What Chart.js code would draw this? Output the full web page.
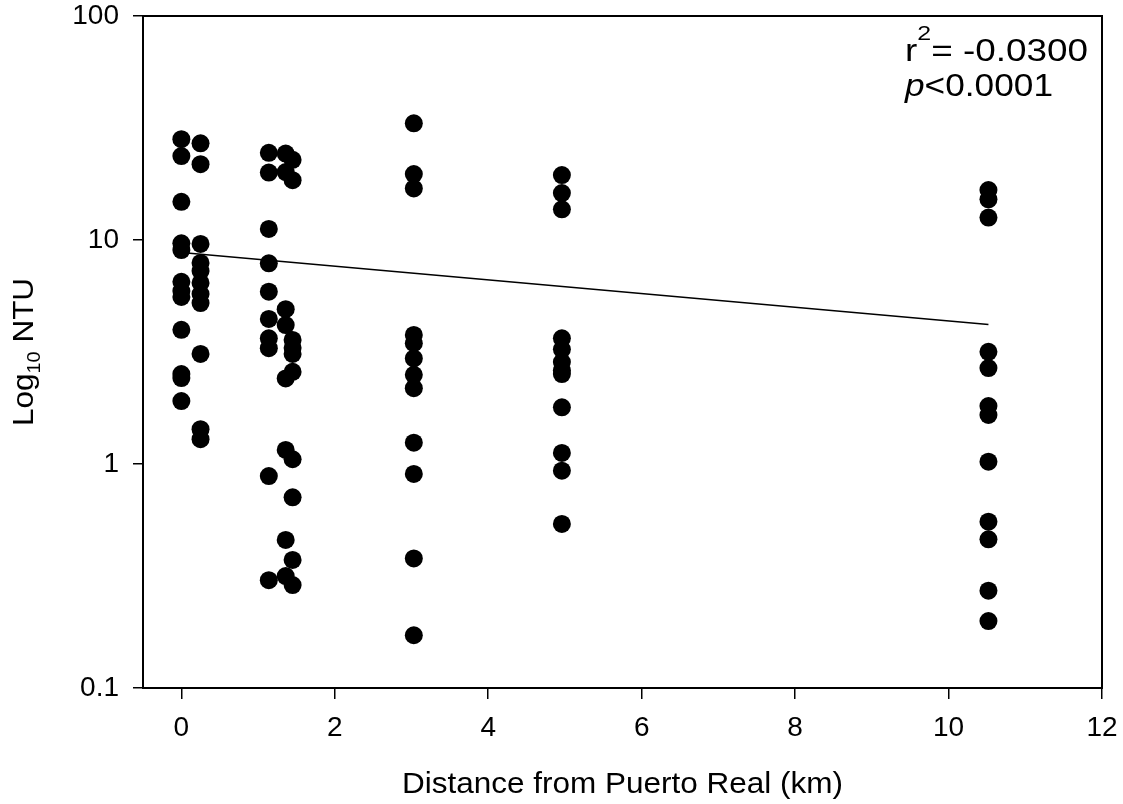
<!DOCTYPE html>
<html>
<head>
<meta charset="utf-8">
<script src="https://cdn.jsdelivr.net/npm/chart.js@4.4.1/dist/chart.umd.min.js"></script>
<style>
  html, body { margin: 0; padding: 0; background: #fff; }
  #wrap { width: 1123px; height: 804px; }
</style>
</head>
<body>
<div id="wrap"><canvas id="chart" width="1123" height="804"></canvas></div>
<script>
// Turbidity (NTU, log scale) against distance from Puerto Real

const FONT = '"Liberation Sans", Arial, sans-serif';

// Sampling sites, km from Puerto Real
const siteKm = [0, 0.25, 1.14, 1.36, 1.45, 3.03, 4.96, 10.52];

// NTU readings per site, same order as siteKm
const ntuSite1 = [28.2, 23.7, 14.8, 9.67, 9.02, 6.51, 5.92, 5.57, 3.97, 2.52, 2.42, 1.91];
const ntuSite2 = [27.0, 21.8, 9.6, 7.9, 7.27, 6.43, 5.74, 5.23, 3.10, 1.43, 1.29];
const ntuSite3 = [24.5, 20.0, 11.2, 7.87, 5.88, 4.44, 3.64, 3.29, 0.883, 0.303];
const ntuSite4 = [24.3, 20.1, 4.91, 4.17, 2.41, 1.155, 0.458, 0.316];
const ntuSite5 = [22.8, 18.5, 3.58, 3.3, 3.1, 2.58, 1.05, 0.71, 0.373, 0.288];
const ntuSite6 = [33.2, 19.7, 17.0, 3.77, 3.46, 2.96, 2.50, 2.18, 1.245, 0.903, 0.379, 0.172];
const ntuSite7 = [19.5, 16.2, 13.7, 3.64, 3.25, 2.85, 2.62, 2.52, 1.79, 1.12, 0.934, 0.54];
const ntuSite8 = [16.7, 15.2, 12.6, 3.17, 2.68, 1.815, 1.655, 1.024, 0.553, 0.461, 0.272, 0.199];
const ntuBySite = [ntuSite1, ntuSite2, ntuSite3, ntuSite4, ntuSite5, ntuSite6, ntuSite7, ntuSite8];

// Regression line end points
const fitKm = [0, 10.52];
const fitNtu = [8.8, 4.2];

// Axis ticks
const xTicks = [0, 2, 4, 6, 8, 10, 12];
const yTicks = [0.1, 1, 10, 100];

const r2Value = '-0.0300';
const pValue = '<0.0001';

const points = ntuBySite.flatMap((vals, i) => vals.map(v => ({ x: siteKm[i], y: v })));
const fitLine = fitKm.map((x, i) => ({ x, y: fitNtu[i] }));

// draw a run of text pieces (for sub/superscripts), stretched horizontally by sx
function drawRuns(ctx, runs, x, y, sx) {
    ctx.save();
    ctx.translate(x, y);
    ctx.scale(sx, 1);
    let cx = 0;
    runs.forEach(r => {
        ctx.font = (r.italic ? 'italic ' : '') + r.size + 'px ' + FONT;
        ctx.fillText(r.text, cx, r.dy || 0);
        cx += ctx.measureText(r.text).width;
    });
    ctx.restore();
    return cx * sx;
}

function runsWidth(ctx, runs) {
    let w = 0;
    runs.forEach(r => {
        ctx.font = (r.italic ? 'italic ' : '') + r.size + 'px ' + FONT;
        w += ctx.measureText(r.text).width;
    });
    return w;
}

const frameAndText = {
    id: 'frameAndText',
    afterDraw(chart) {
        const { ctx, chartArea: a } = chart;
        ctx.save();
        ctx.strokeStyle = '#000';
        ctx.lineWidth = 2;
        ctx.strokeRect(a.left, a.top, a.right - a.left, a.bottom - a.top);

        ctx.fillStyle = '#000';
        ctx.textBaseline = 'alphabetic';
        ctx.textAlign = 'left';

        // x axis title
        const xRuns = [{ text: 'Distance from Puerto Real (km)', size: 30 }];
        const xs = 1.05;
        const xw = runsWidth(ctx, xRuns) * xs;
        drawRuns(ctx, xRuns, (a.left + a.right) / 2 - xw / 2, 793, xs);

        // y axis title, rotated
        const yRuns = [
            { text: 'Log', size: 30 },
            { text: '10', size: 19, dy: 7 },
            { text: ' NTU', size: 30 }
        ];
        const ys = 1.05;
        const yw = runsWidth(ctx, yRuns) * ys;
        ctx.save();
        ctx.translate(33, (a.top + a.bottom) / 2 + yw / 2);
        ctx.rotate(-Math.PI / 2);
        drawRuns(ctx, yRuns, 0, 0, ys);
        ctx.restore();

        // stats annotation
        const line1 = [
            { text: 'r', size: 31 },
            { text: '2', size: 21, dy: -21 },
            { text: '= ' + r2Value, size: 31 }
        ];
        const line2 = [
            { text: 'p', size: 31, italic: true },
            { text: pValue, size: 31 }
        ];
        drawRuns(ctx, line1, 905, 61, 183 / runsWidth(ctx, line1));
        drawRuns(ctx, line2, 905, 96, 148 / runsWidth(ctx, line2));
        ctx.restore();
    }
};

const tickFont = { family: FONT, size: 28 };

new Chart(document.getElementById('chart').getContext('2d'), {
    type: 'scatter',
    data: {
        datasets: [
            {
                type: 'line',
                data: fitLine,
                borderColor: '#000',
                borderWidth: 1.5,
                pointRadius: 0,
                fill: false,
                tension: 0
            },
            {
                data: points,
                backgroundColor: '#000',
                borderWidth: 0,
                pointRadius: 9,
                pointHoverRadius: 9
            }
        ]
    },
    options: {
        responsive: false,
        animation: false,
        events: [],
        layout: { padding: { left: 0, top: 16, right: 21, bottom: 0 } },
        plugins: { legend: { display: false }, tooltip: { enabled: false } },
        scales: {
            x: {
                type: 'linear',
                min: -0.5,
                max: 12,
                afterBuildTicks: s => { s.ticks = xTicks.map(v => ({ value: v })); },
                afterFit: s => { s.height = 116; s.paddingLeft = 0; s.paddingRight = 0; },
                grid: { drawOnChartArea: false, drawTicks: true, tickLength: 11, color: '#000', lineWidth: 1.5 },
                border: { display: true, color: '#000', width: 2 },
                ticks: { color: '#000', font: tickFont, padding: 12, maxRotation: 0, autoSkip: false }
            },
            y: {
                type: 'logarithmic',
                min: 0.1,
                max: 100,
                afterBuildTicks: s => { s.ticks = yTicks.map(v => ({ value: v })); },
                afterFit: s => { s.width = 143; s.paddingTop = 0; s.paddingBottom = 0; },
                grid: { drawOnChartArea: false, drawTicks: true, tickLength: 10, color: '#000', lineWidth: 1.5 },
                border: { display: true, color: '#000', width: 2 },
                ticks: { color: '#000', font: tickFont, padding: 14, autoSkip: false, callback: v => String(v) }
            }
        }
    },
    plugins: [frameAndText]
});
</script>
</body>
</html>
